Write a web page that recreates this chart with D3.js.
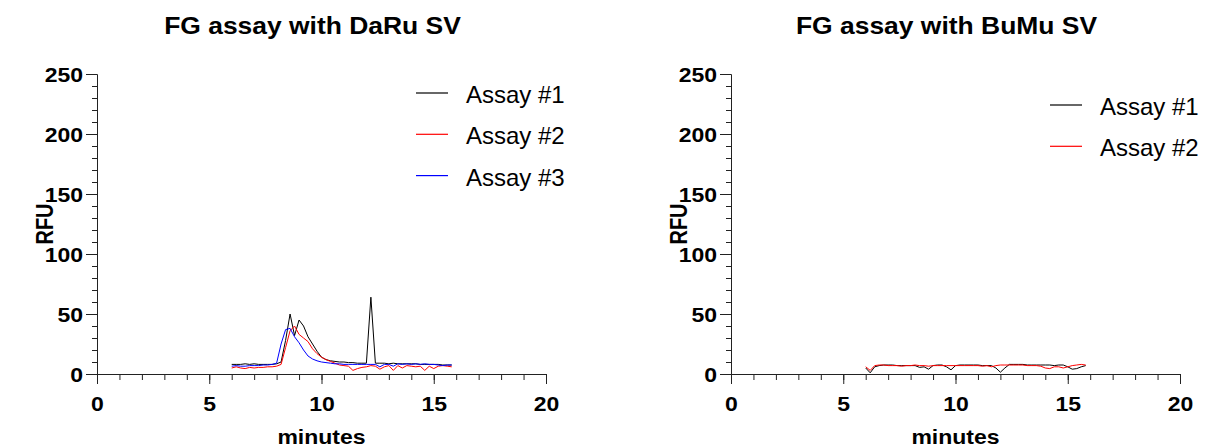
<!DOCTYPE html>
<html>
<head>
<meta charset="utf-8">
<script src="https://cdn.jsdelivr.net/npm/d3@7"></script>
<style>
  body { margin: 0; background: #fff; }
  svg { display: block; font-family: 'Liberation Sans', Arial, sans-serif; }
</style>
</head>
<body>
<svg width="1211" height="448"></svg>
<script>
'use strict';

// minutes sampled every 0.2
const times = [6.0, 6.2, 6.4, 6.6, 6.8, 7.0, 7.2, 7.4, 7.6, 7.8,
  8.0, 8.2, 8.4, 8.6, 8.8, 9.0, 9.2, 9.4, 9.6, 9.8,
  10.0, 10.2, 10.4, 10.6, 10.8, 11.0, 11.2, 11.4, 11.6, 11.8,
  12.0, 12.2, 12.4, 12.6, 12.8, 13.0, 13.2, 13.4, 13.6, 13.8,
  14.0, 14.2, 14.4, 14.6, 14.8, 15.0, 15.2, 15.4, 15.6, 15.8]

// DaRu SV
const daru1 = [8, 8, 8, 8.5, 8, 8.5, 8, 8, 8, 8,
  8.5, 10, 28, 50, 32, 45, 40, 31, 25, 19,
  14, 12, 11, 10.5, 10, 10, 9.5, 9.5, 9, 9,
  9, 64, 9, 9, 9, 8.5, 9, 8.5, 8.5, 8.5,
  8.5, 8.5, 8, 8, 8, 8, 8, 7.5, 7.5, 7.5]
const daru2 = [5, 6, 5, 4.5, 5.5, 5, 5.5, 5.5, 6, 6,
  6.5, 8, 22, 36, 40, 33, 30, 27, 21, 17,
  14, 12, 10.5, 9, 7.5, 7, 6.5, 3, 4.5, 5.5,
  6, 7, 6.5, 4, 6, 7, 3, 7, 5, 7,
  6.5, 6, 6.5, 3, 6.5, 4.5, 6.5, 7, 6.5, 6]
const daru3 = [6.5, 7, 6.5, 6.5, 7, 7, 7, 7.5, 7.5, 8,
  9, 25, 37, 38, 31, 26, 20, 15, 12.5, 11,
  10, 9.5, 9, 8.5, 8.5, 8, 8, 8, 8, 8,
  8, 8, 8, 6, 8, 8, 6.5, 8.5, 8, 8.5,
  8, 8.5, 8, 8.5, 8, 8, 7.5, 7, 7.5, 7.5]

// BuMu SV
const bumu1 = [5, 1, 6, 7, 7.5, 7.5, 7.5, 7, 7, 7,
  7, 7, 5.5, 6, 4, 7, 7.5, 7.5, 6, 3.5,
  7, 7.5, 7.5, 7.5, 7.5, 7.5, 7, 7, 7, 5,
  1.5, 5, 8, 8, 8, 8, 7.5, 7.5, 7.5, 7.5,
  7.5, 7.5, 7, 7.5, 7.5, 6, 4, 4.5, 6, 7]
const bumu2 = [6, 3, 7, 7.5, 7.5, 7, 7, 7, 6.5, 7,
  7, 7.5, 7, 7, 6.5, 7, 7, 7, 7, 7,
  7, 7, 7, 7, 7, 7, 6.5, 7, 6, 7,
  7.5, 7.5, 7.5, 7.5, 7.5, 7.5, 7, 7, 7, 6.5,
  5, 4.5, 6, 6, 5, 6, 7, 7.5, 8, 7.5]

const yMajor = [0, 50, 100, 150, 200, 250]
const xMajor = [0, 5, 10, 15, 20]

const panels = [
  {
    title: 'FG assay with DaRu SV',
    left: 97,
    series: [
      {name: 'Assay #1', values: daru1, color: '#000'},
      {name: 'Assay #2', values: daru2, color: '#ff0000'},
      {name: 'Assay #3', values: daru3, color: '#0000ff'}
    ],
    legend: {x: 416, y: 93}
  },
  {
    title: 'FG assay with BuMu SV',
    left: 731,
    series: [
      {name: 'Assay #1', values: bumu1, color: '#000'},
      {name: 'Assay #2', values: bumu2, color: '#ff0000'}
    ],
    legend: {x: 1050, y: 105}
  }
]

const svg = d3.select('svg')
const SX = 1.15   // bold labels in the source are a bit wider
const axisColor = '#222'
const plotW = 449
const plotTop = 74
const plotBottom = 374

panels.forEach((p) => {
  const g = svg.append('g').attr('transform', 'translate(' + p.left + ',0)')

  const x = d3.scaleLinear().domain([0, 20]).range([0, plotW])
  const y = d3.scaleLinear().domain([0, 250]).range([plotBottom, plotTop])

  // minor ticks
  g.append('g')
    .call(d3.axisLeft(y).tickValues(d3.range(0, 251, 10)).tickSize(5).tickSizeOuter(0).tickFormat(''))
  g.append('g')
    .attr('transform', 'translate(0,' + plotBottom + ')')
    .call(d3.axisBottom(x).tickValues(d3.range(0, 21, 1)).tickSize(6).tickSizeOuter(0).tickFormat(''))

  // major ticks
  const yAx = g.append('g')
    .call(d3.axisLeft(y).tickValues(yMajor).tickSize(11).tickSizeOuter(0))
  yAx.selectAll('.tick text')
    .attr('x', -14 / SX)
    .attr('dy', '0.35em')
    .attr('transform', 'scale(' + SX + ',1)')

  const xAx = g.append('g')
    .attr('transform', 'translate(0,' + plotBottom + ')')
    .call(d3.axisBottom(x).tickValues(xMajor).tickSize(10).tickSizeOuter(0))
  xAx.selectAll('.tick text')
    .attr('y', 37)
    .attr('dy', 0)
    .attr('transform', 'scale(' + SX + ',1)')

  g.selectAll('.domain, .tick line').attr('stroke', axisColor).attr('stroke-width', 1)
  g.selectAll('.tick text')
    .attr('fill', '#000')
    .style('font-family', "'Liberation Sans', Arial, sans-serif")
    .style('font-size', '20px')
    .style('font-weight', 'bold')

  // titles
  g.append('text')
    .attr('transform', 'translate(' + (plotW / 2 - 9) + ',34) scale(' + SX + ',1)')
    .attr('text-anchor', 'middle')
    .style('font-size', '23px')
    .style('font-weight', 'bold')
    .text(p.title)

  g.append('text')
    .attr('transform', 'translate(' + (plotW / 2) + ',444) scale(' + SX + ',1)')
    .attr('text-anchor', 'middle')
    .style('font-size', '20px')
    .style('font-weight', 'bold')
    .text('minutes')

  // rotated: the page's horizontal stretch goes across the glyphs here
  g.append('text')
    .attr('transform', 'translate(-44,' + ((plotTop + plotBottom) / 2) + ') rotate(-90) scale(1,' + SX + ')')
    .attr('text-anchor', 'middle')
    .style('font-size', '20px')
    .style('font-weight', 'bold')
    .text('RFU')

  // traces
  const line = d3.line()
    .x((d, i) => x(times[i]))
    .y((d) => y(d))

  p.series.forEach((s) => {
    g.append('path')
      .attr('d', line(s.values))
      .attr('fill', 'none')
      .attr('stroke', s.color)
      .attr('stroke-width', 1)
  })

  // legend
  const lg = svg.append('g').attr('transform', 'translate(' + p.legend.x + ',' + p.legend.y + ')')
  p.series.forEach((s, i) => {
    const row = lg.append('g').attr('transform', 'translate(0,' + (i * 41.3) + ')')
    row.append('line')
      .attr('x1', 0).attr('x2', 32)
      .attr('stroke', s.color)
      .attr('stroke-width', 1.2)
    row.append('text')
      .attr('x', 50)
      .attr('y', 10)
      .style('font-size', '24px')
      .text(s.name)
  })
})
</script>
</body>
</html>
